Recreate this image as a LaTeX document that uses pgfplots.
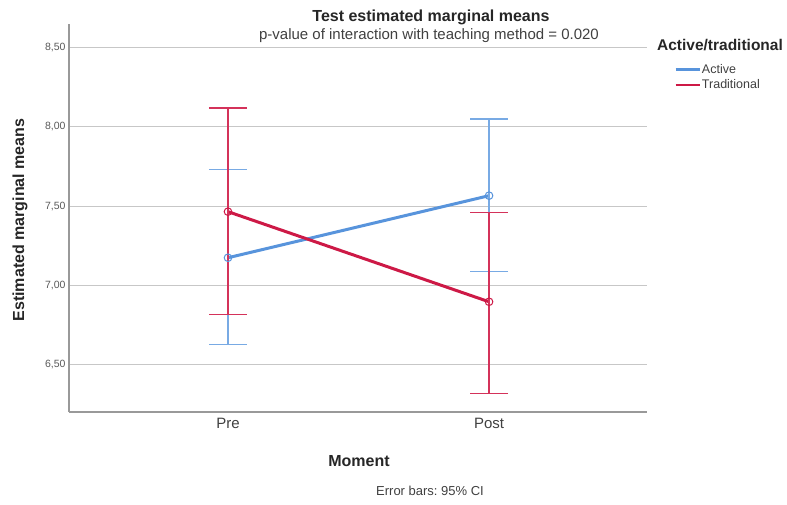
\documentclass[border=0pt]{standalone}
\usepackage{fontspec}
\setmainfont{Liberation Sans}
\usepackage{pgfplots}
\pgfplotsset{compat=1.18}
\definecolor{cact}{RGB}{88,148,220}
\definecolor{ctrad}{RGB}{205,25,70}
\definecolor{cactbar}{RGB}{120,170,228}
\definecolor{ctradbar}{RGB}{212,50,90}
\frenchspacing
\begin{document}
\begin{tikzpicture}[x=1pt,y=1pt]
\useasboundingbox (0,0) rectangle (787,504);
\begin{axis}[
  at={(69pt,92pt)}, anchor=south west, scale only axis,
  width=578pt, height=388pt,
  xmin=-0.609, xmax=1.605, ymin=6.2, ymax=8.65,
  axis x line*=bottom, axis y line*=left,
  axis line style={draw=black!40, line width=1.2pt, -},
  xtick={0,1}, xticklabels={Pre,Post},
  ytick={6.5,7,7.5,8,8.5},
  /pgf/number format/assume math mode=true,
  yticklabel style={/pgf/number format/fixed, /pgf/number format/fixed zerofill,
    /pgf/number format/precision=2, /pgf/number format/use comma,
    font=\fontsize{10.5}{12}\selectfont, text=black!65},
  xticklabel style={font=\fontsize{15}{18}\selectfont, text=black!75, yshift=-3pt},
  ymajorgrids, grid style={draw=black!22, line width=0.9pt},
  major tick length=0pt,
  clip=false,
  legend image code/.code={\draw[#1] (0pt,0pt) -- (24pt,0pt);},
  legend style={at={(1.047,0.900)}, anchor=north west, draw=none, fill=none,
    inner sep=0pt, row sep=3pt, font=\fontsize{12.5}{14}\selectfont, text=black!75,
    nodes={inner sep=1pt}},
  legend cell align=left,
]
\addplot[forget plot, cact, line width=3pt, mark=o, mark size=3.8pt,
  mark options={line width=1pt, fill=white},
  error bars/.cd, y dir=both, y explicit,
  error bar style={line width=1.2pt, cactbar},
  error mark options={rotate=90, mark size=19pt, line width=1.2pt, cactbar}]
  coordinates {(0,7.174) += (0,0.556) -= (0,0.549)
               (1,7.566) += (0,0.484) -= (0,0.480)};
\addplot[forget plot, ctrad, line width=3pt, mark=o, mark size=3.8pt,
  mark options={line width=1pt, fill=white},
  error bars/.cd, y dir=both, y explicit,
  error bar style={line width=1.2pt, ctradbar},
  error mark options={rotate=90, mark size=19pt, line width=1.2pt, ctradbar}]
  coordinates {(0,7.465) += (0,0.655) -= (0,0.651)
               (1,6.896) += (0,0.562) -= (0,0.580)};
\addlegendimage{cact, line width=2.6pt}
\addlegendentry{Active}
\addlegendimage{ctrad, line width=2.6pt}
\addlegendentry{Traditional}
\end{axis}
\node[font=\bfseries\fontsize{16}{19}\selectfont, text=black!85] at (431,487) {Test estimated marginal means};
\node[font=\fontsize{15}{18}\selectfont, text=black!75] at (429,468) {p-value of interaction with teaching method = 0.020};
\node[font=\bfseries\fontsize{15.5}{18}\selectfont, text=black!85] at (720,459) {Active/traditional};
\node[rotate=90, font=\bfseries\fontsize{16}{19}\selectfont, text=black!85] at (20,284) {Estimated marginal means};
\node[font=\bfseries\fontsize{16}{19}\selectfont, text=black!85] at (359,43) {Moment};
\node[font=\fontsize{13}{15}\selectfont, text=black!75] at (430,13) {Error bars: 95\% CI};
\end{tikzpicture}
\end{document}
